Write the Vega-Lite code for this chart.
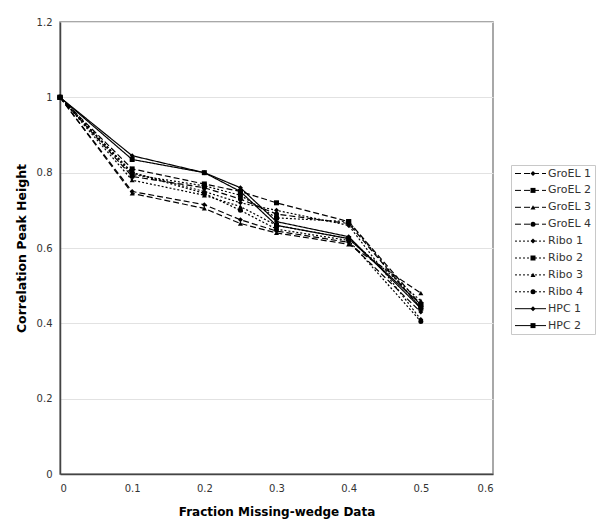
{
  "$schema": "https://vega.github.io/schema/vega-lite/v6.json",
  "width": 433,
  "height": 452,
  "autosize": {"type": "none"},
  "padding": {"left": 60, "top": 22, "right": 107, "bottom": 57},
  "background": "white",
  "config": {
    "font": "DejaVu Sans",
    "view": {"stroke": "#8c8c8c", "strokeWidth": 1.5},
    "legend": {
      "orient": "none",
      "legendX": 451,
      "legendY": 143,
      "padding": 3,
      "labelOffset": 12,
      "labelFontSize": 11,
      "labelColor": "#333",
      "rowPadding": 4.9,
      "symbolStrokeColor": "black",
      "symbolFillColor": "black",
      "symbolStrokeWidth": 1,
      "symbolOpacity": 1
    }
  },
  "data": {
    "values": [
      {"series": "GroEL 1", "x": 0, "y": 1}, {"series": "GroEL 1", "x": 0.1, "y": 0.75}, {"series": "GroEL 1", "x": 0.2, "y": 0.715}, {"series": "GroEL 1", "x": 0.25, "y": 0.675}, {"series": "GroEL 1", "x": 0.3, "y": 0.645}, {"series": "GroEL 1", "x": 0.4, "y": 0.615}, {"series": "GroEL 1", "x": 0.5, "y": 0.43},
      {"series": "GroEL 2", "x": 0, "y": 1}, {"series": "GroEL 2", "x": 0.1, "y": 0.81}, {"series": "GroEL 2", "x": 0.2, "y": 0.77}, {"series": "GroEL 2", "x": 0.25, "y": 0.75}, {"series": "GroEL 2", "x": 0.3, "y": 0.72}, {"series": "GroEL 2", "x": 0.4, "y": 0.67}, {"series": "GroEL 2", "x": 0.5, "y": 0.45},
      {"series": "GroEL 3", "x": 0, "y": 1}, {"series": "GroEL 3", "x": 0.1, "y": 0.745}, {"series": "GroEL 3", "x": 0.2, "y": 0.705}, {"series": "GroEL 3", "x": 0.25, "y": 0.665}, {"series": "GroEL 3", "x": 0.3, "y": 0.64}, {"series": "GroEL 3", "x": 0.4, "y": 0.61}, {"series": "GroEL 3", "x": 0.5, "y": 0.48},
      {"series": "GroEL 4", "x": 0, "y": 1}, {"series": "GroEL 4", "x": 0.1, "y": 0.79}, {"series": "GroEL 4", "x": 0.2, "y": 0.76}, {"series": "GroEL 4", "x": 0.25, "y": 0.73}, {"series": "GroEL 4", "x": 0.3, "y": 0.69}, {"series": "GroEL 4", "x": 0.4, "y": 0.665}, {"series": "GroEL 4", "x": 0.5, "y": 0.44},
      {"series": "Ribo 1", "x": 0, "y": 1}, {"series": "Ribo 1", "x": 0.1, "y": 0.8}, {"series": "Ribo 1", "x": 0.2, "y": 0.75}, {"series": "Ribo 1", "x": 0.25, "y": 0.72}, {"series": "Ribo 1", "x": 0.3, "y": 0.7}, {"series": "Ribo 1", "x": 0.4, "y": 0.66}, {"series": "Ribo 1", "x": 0.5, "y": 0.41},
      {"series": "Ribo 2", "x": 0, "y": 1}, {"series": "Ribo 2", "x": 0.1, "y": 0.795}, {"series": "Ribo 2", "x": 0.2, "y": 0.765}, {"series": "Ribo 2", "x": 0.25, "y": 0.74}, {"series": "Ribo 2", "x": 0.3, "y": 0.68}, {"series": "Ribo 2", "x": 0.4, "y": 0.67}, {"series": "Ribo 2", "x": 0.5, "y": 0.44},
      {"series": "Ribo 3", "x": 0, "y": 1}, {"series": "Ribo 3", "x": 0.1, "y": 0.78}, {"series": "Ribo 3", "x": 0.2, "y": 0.74}, {"series": "Ribo 3", "x": 0.25, "y": 0.71}, {"series": "Ribo 3", "x": 0.3, "y": 0.66}, {"series": "Ribo 3", "x": 0.4, "y": 0.625}, {"series": "Ribo 3", "x": 0.5, "y": 0.46},
      {"series": "Ribo 4", "x": 0, "y": 1}, {"series": "Ribo 4", "x": 0.1, "y": 0.8}, {"series": "Ribo 4", "x": 0.2, "y": 0.745}, {"series": "Ribo 4", "x": 0.25, "y": 0.7}, {"series": "Ribo 4", "x": 0.3, "y": 0.65}, {"series": "Ribo 4", "x": 0.4, "y": 0.62}, {"series": "Ribo 4", "x": 0.5, "y": 0.405},
      {"series": "HPC 1", "x": 0, "y": 1}, {"series": "HPC 1", "x": 0.1, "y": 0.845}, {"series": "HPC 1", "x": 0.2, "y": 0.8}, {"series": "HPC 1", "x": 0.25, "y": 0.76}, {"series": "HPC 1", "x": 0.3, "y": 0.67}, {"series": "HPC 1", "x": 0.4, "y": 0.63}, {"series": "HPC 1", "x": 0.5, "y": 0.44},
      {"series": "HPC 2", "x": 0, "y": 1}, {"series": "HPC 2", "x": 0.1, "y": 0.835}, {"series": "HPC 2", "x": 0.2, "y": 0.8}, {"series": "HPC 2", "x": 0.25, "y": 0.75}, {"series": "HPC 2", "x": 0.3, "y": 0.66}, {"series": "HPC 2", "x": 0.4, "y": 0.625}, {"series": "HPC 2", "x": 0.5, "y": 0.45}
    ]
  },
  "encoding": {
    "x": {
      "field": "x",
      "type": "quantitative",
      "scale": {"domain": [0, 0.6], "nice": false},
      "axis": {
        "values": [0, 0.1, 0.2, 0.3, 0.4, 0.5, 0.6],
        "format": "~g",
        "title": "Fraction Missing-wedge Data",
        "grid": false,
        "ticks": false,
        "labelPadding": 9,
        "labelFontSize": 10,
        "labelColor": "#333",
        "titleFontSize": 12,
        "titleFontWeight": "bold",
        "titleColor": "black",
        "titlePadding": 13,
        "domainColor": "#444",
        "domainWidth": 1.5
      }
    },
    "y": {
      "field": "y",
      "type": "quantitative",
      "scale": {"domain": [0, 1.2], "nice": false},
      "axis": {
        "values": [0, 0.2, 0.4, 0.6, 0.8, 1, 1.2],
        "format": "~g",
        "title": "Correlation Peak Height",
        "grid": true,
        "gridColor": "#e2e2e2",
        "gridWidth": 1,
        "ticks": false,
        "labelPadding": 8,
        "labelFontSize": 10,
        "labelColor": "#333",
        "titleFontSize": 12.5,
        "titleFontWeight": "bold",
        "titleColor": "black",
        "titlePadding": 8,
        "domainColor": "#444",
        "domainWidth": 1.5
      }
    }
  },
  "layer": [
    {
      "mark": {"type": "line", "color": "black", "strokeWidth": 1.2},
      "encoding": {
        "strokeDash": {
          "field": "series",
          "type": "nominal",
          "scale": {
            "domain": ["GroEL 1", "GroEL 2", "GroEL 3", "GroEL 4", "Ribo 1", "Ribo 2", "Ribo 3", "Ribo 4", "HPC 1", "HPC 2"],
            "range": [[6, 3], [6, 3], [6, 3], [6, 3], [2, 2], [2, 2], [2, 2], [2, 2], [1, 0], [1, 0]]
          },
          "legend": {
            "title": null,
            "strokeColor": "#c8c8c8",
            "symbolType": "M-3.1,0H3.1",
            "symbolSize": 100,
            "symbolOffset": 11
          }
        }
      }
    },
    {
      "mark": {"type": "point", "filled": true, "color": "black", "size": 25, "opacity": 1},
      "encoding": {
        "shape": {
          "field": "series",
          "type": "nominal",
          "scale": {
            "domain": ["GroEL 1", "GroEL 2", "GroEL 3", "GroEL 4", "Ribo 1", "Ribo 2", "Ribo 3", "Ribo 4", "HPC 1", "HPC 2", "~"],
            "range": ["diamond", "square", "triangle-up", "circle", "diamond", "square", "triangle-up", "circle", "diamond", "square", "M0,0Z"]
          },
          "legend": {
            "title": null,
            "strokeColor": "transparent",
            "labelOpacity": 0,
            "symbolSize": 25,
            "symbolOffset": 13.5
          }
        }
      }
    }
  ]
}
